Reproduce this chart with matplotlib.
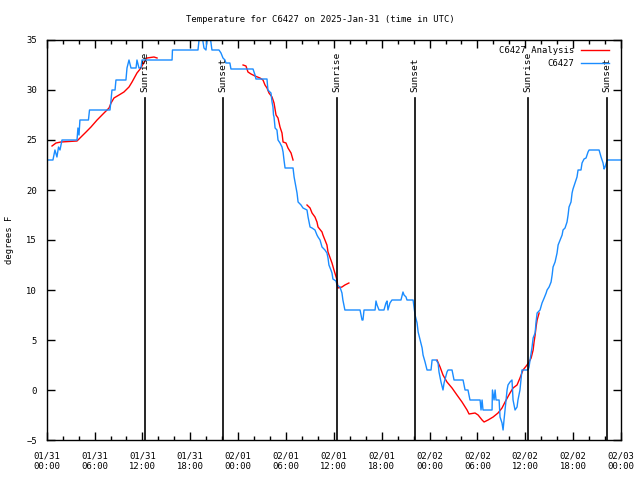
import numpy as np
import matplotlib
matplotlib.use("Agg")
import matplotlib.pyplot as plt
import matplotlib.dates as mdates

plt.rcParams['font.family'] = ['DejaVu Sans Mono']
FS = 6.4

T0 = np.datetime64('2025-01-31T00:00')

# observed temperature (hours since 01/31 00:00 UTC, degrees F)
obs_hours = [0.0, 0.79, 1.04, 1.29, 1.48, 1.67, 1.92, 3.80, 3.92, 4.05, 4.17, 5.24, 5.37,
             7.94, 8.06, 8.19, 8.56, 8.69, 9.94, 10.07, 10.32, 10.57, 11.20, 11.32, 11.57,
             11.82, 11.95, 15.71, 15.77, 18.97, 19.16, 19.47, 19.72, 19.97, 20.10, 20.29,
             20.47, 20.72, 21.60, 21.85, 22.10, 22.35, 22.47, 22.97, 23.10, 25.86, 26.11,
             26.24, 27.62, 27.74, 28.12, 28.25, 28.37, 28.44, 28.50, 28.63, 28.87, 29.00,
             29.25, 29.50, 29.63, 29.75, 29.88, 30.88, 31.01, 31.38, 31.51, 31.88, 32.13,
             32.63, 32.76, 33.01, 33.26, 33.64, 33.89, 34.01, 34.26, 34.51, 34.89, 35.14,
             35.27, 35.39, 35.64, 35.77, 35.89, 36.27, 36.40, 36.77, 37.02, 37.14, 37.39,
             39.28, 39.53, 39.65, 39.78, 41.16, 41.29, 41.41, 41.66, 42.29, 42.54, 42.66,
             42.79, 43.04, 43.29, 44.42, 44.67, 44.80, 45.05, 45.17, 45.93, 45.99, 46.18,
             46.43, 46.56, 46.81, 47.06, 47.18, 47.43, 47.69, 48.19, 48.31, 48.81, 49.06,
             49.19, 49.44, 49.69, 49.81, 50.19, 50.32, 50.82, 51.07, 52.20, 52.45, 52.82,
             53.07, 54.33, 54.45, 54.58, 54.70, 55.83, 55.89, 56.08, 56.21, 56.33, 56.71,
             56.83, 57.08, 57.21, 57.34, 57.59, 57.71, 57.84, 58.09, 58.34, 58.47, 58.72,
             58.97, 59.09, 59.34, 59.59, 60.35, 60.47, 60.73, 60.85, 60.98, 61.23, 61.35,
             61.48, 61.85, 62.10, 62.36, 62.61, 62.73, 62.98, 63.23, 63.36, 63.48, 63.73,
             63.99, 64.11, 64.36, 64.61, 64.74, 64.99, 65.24, 65.37, 65.49, 65.74, 65.87,
             65.99, 66.24, 66.49, 66.62, 66.99, 67.12, 67.37, 67.62, 67.87, 68.00, 69.25,
             69.50, 69.75, 69.88, 70.00, 70.26, 72.0]
obs_temp = [23.0, 23.0, 24.0, 23.3, 24.3, 24.0, 25.0, 25.0, 26.2, 25.5, 27.0, 27.0, 28.0,
            28.0, 29.0, 30.0, 30.0, 31.0, 31.0, 32.2, 33.0, 32.2, 32.2, 33.0, 32.2,
            32.2, 33.0, 33.0, 34.0, 34.0, 35.5, 35.5, 34.2, 34.0, 35.0, 35.5,
            35.5, 34.0, 34.0, 33.7, 33.2, 33.0, 32.7, 32.7, 32.1, 32.1, 31.5,
            31.1, 31.1, 30.0, 29.7, 28.8, 28.3, 27.5, 27.3, 26.2, 26.0, 25.0,
            24.7, 24.3, 23.8, 23.0, 22.2, 22.2, 21.3, 19.7, 18.8, 18.5, 18.2,
            18.0, 17.3, 16.3, 16.2, 16.0, 15.5, 15.3, 15.0, 14.3, 14.0, 13.7,
            13.2, 12.5, 12.0, 11.7, 11.1, 10.9, 10.5, 10.3, 9.7, 9.0, 8.0,
            8.0, 7.0, 7.0, 8.0, 8.0, 8.9, 8.5, 8.0, 8.0, 8.7, 8.9,
            8.0, 8.7, 9.0, 9.0, 9.8, 9.5, 9.3, 9.0, 9.0, 8.7, 7.5,
            6.7, 5.8, 5.0, 4.2, 3.5, 2.8, 2.0, 2.0, 3.0, 3.0, 2.7,
            1.8, 0.8, 0.0, 0.7, 1.8, 2.0, 2.0, 1.0, 1.0, 0.0, 0.0,
            -1.0, -1.0, -2.0, -1.0, -2.0, -2.0, 0.0, -1.0, 0.0, -1.0, -1.0,
            -2.7, -3.3, -4.0, -3.0, -1.0, 0.0, 0.5, 0.8, 1.0, -1.0, -2.0,
            -1.7, -1.0, 0.0, 2.0, 2.0, 2.3, 3.7, 4.3, 5.2, 5.7, 6.8,
            7.7, 8.0, 8.7, 9.2, 9.7, 10.0, 10.3, 10.8, 11.5, 12.3, 12.8,
            13.7, 14.5, 15.0, 15.5, 16.0, 16.2, 16.8, 17.5, 18.3, 18.8, 19.7,
            20.1, 20.7, 21.3, 22.0, 22.0, 22.7, 23.1, 23.2, 23.8, 24.0, 24.0,
            23.3, 22.7, 22.1, 22.3, 23.0, 23.0]

# analysis segments, separated by nan
ana_hours = [0.66, 1.17, 1.79, 3.80, 4.30, 4.93, 5.55, 6.31, 7.18, 7.81, 8.06, 8.43, 9.06,
             9.69, 10.32, 10.70, 11.32, 11.82, 12.20, 12.57, 13.45, 13.83, np.nan,
             24.61, 24.99, 25.24, 25.61, 26.11, 26.74, 27.12, 27.37, 27.62, 27.87, 28.25,
             28.50, 28.75, 29.00, 29.25, 29.50, 29.63, 30.00, 30.25, 30.63, 30.88, np.nan,
             32.63, 33.01, 33.26, 33.64, 33.89, 34.01, 34.51, 34.64, 35.14, 35.27, 35.77,
             36.02, 36.40, 36.52, 37.02, 37.39, 37.89, np.nan,
             48.93, 49.31, 49.69, 50.19, 50.82, 51.44, 52.07, 52.70, 52.95, 53.70, 54.08,
             54.58, 54.83, 55.33, 55.96, 56.58, 57.08, 57.46, 58.09, 58.47, 58.97, 59.34,
             59.72, 60.22, 60.47, 60.73, 60.98, 61.10, 61.23, 61.35, 61.48, 61.73]
ana_temp = [24.4, 24.7, 24.8, 24.9, 25.3, 25.8, 26.3, 27.0, 27.7, 28.2, 28.7, 29.2, 29.5,
            29.8, 30.3, 30.8, 31.7, 32.2, 32.8, 33.2, 33.3, 33.2, np.nan,
            32.5, 32.4, 31.8, 31.6, 31.4, 31.2, 31.0, 30.5, 30.2, 29.7, 29.3,
            28.7, 27.5, 27.2, 26.3, 25.7, 24.8, 24.7, 24.2, 23.7, 23.0, np.nan,
            18.5, 18.2, 17.7, 17.3, 16.8, 16.3, 15.8, 15.5, 14.5, 13.8, 12.7,
            12.0, 11.0, 10.2, 10.3, 10.5, 10.7, np.nan,
            3.0, 2.3, 1.5, 0.8, 0.2, -0.5, -1.2, -2.0, -2.4, -2.3, -2.5,
            -3.0, -3.2, -3.0, -2.7, -2.3, -1.8, -1.2, -0.3, 0.2, 0.5, 1.2,
            2.0, 2.5, 2.8, 3.2, 4.0, 4.8, 5.5, 6.3, 7.0, 7.7]

sun_times = ['2025-01-31T12:19', '2025-01-31T22:08', '2025-02-01T12:25',
             '2025-02-01T22:11', '2025-02-02T12:23', '2025-02-02T22:17']
sun_labels = ['Sunrise', 'Sunset', 'Sunrise', 'Sunset', 'Sunrise', 'Sunset']


def to_dt(hours):
    mins = np.round(np.array(hours, dtype=float) * 60)
    out = []
    for m in mins:
        out.append(np.datetime64('NaT') if np.isnan(m) else T0 + np.timedelta64(int(m), 'm'))
    return np.array(out, dtype='datetime64[m]')


fig = plt.figure(figsize=(6.4, 4.8), dpi=100)
ax = fig.add_axes([46.7 / 640, 40 / 480, 574.3 / 640, 400 / 480])

ax.plot(to_dt(ana_hours), ana_temp, color='#ff0000', lw=1.0, label='C6427 Analysis')
ax.plot(to_dt(obs_hours), obs_temp, color='#1a8cff', lw=1.0, label='C6427')

for t, lab in zip(sun_times, sun_labels):
    x = np.datetime64(t)
    ax.plot([x, x], [-5, 29.2], color='black', lw=1.2)
    ax.text(x, 29.8, lab, rotation=90, ha='center', va='bottom', fontsize=6.8)

ax.set_xlim(T0, T0 + np.timedelta64(3, 'D'))
ax.set_ylim(-5, 35)
ax.set_yticks(np.arange(-5, 36, 5))
ax.xaxis.set_major_locator(mdates.HourLocator(byhour=[0, 6, 12, 18]))
ax.xaxis.set_minor_locator(mdates.HourLocator(interval=2))
ax.xaxis.set_major_formatter(mdates.DateFormatter('%m/%d\n%H:%M'))
ax.tick_params(which='both', direction='in', top=True, right=True, labelsize=FS)
ax.tick_params(which='major', length=6, width=1)
ax.tick_params(which='minor', length=3, width=1)
ax.tick_params(axis='x', pad=8)
ax.tick_params(axis='y', pad=7)
for s in ax.spines.values():
    s.set_linewidth(1)

leg = ax.legend(loc='upper right', bbox_to_anchor=(1.0, 1.014), frameon=False,
                markerfirst=False, fontsize=FS, handlelength=3.2, handletextpad=0.8,
                borderpad=0.3, borderaxespad=1.0, labelspacing=0.48)

fig.text(0.5, 1 - 20 / 480, 'Temperature for C6427 on 2025-Jan-31 (time in UTC)',
         ha='center', va='center', fontsize=FS)
fig.text(10 / 640, 0.5, 'degrees F', rotation=90, ha='center', va='center', fontsize=FS)

fig.savefig('out.png', dpi=100)
